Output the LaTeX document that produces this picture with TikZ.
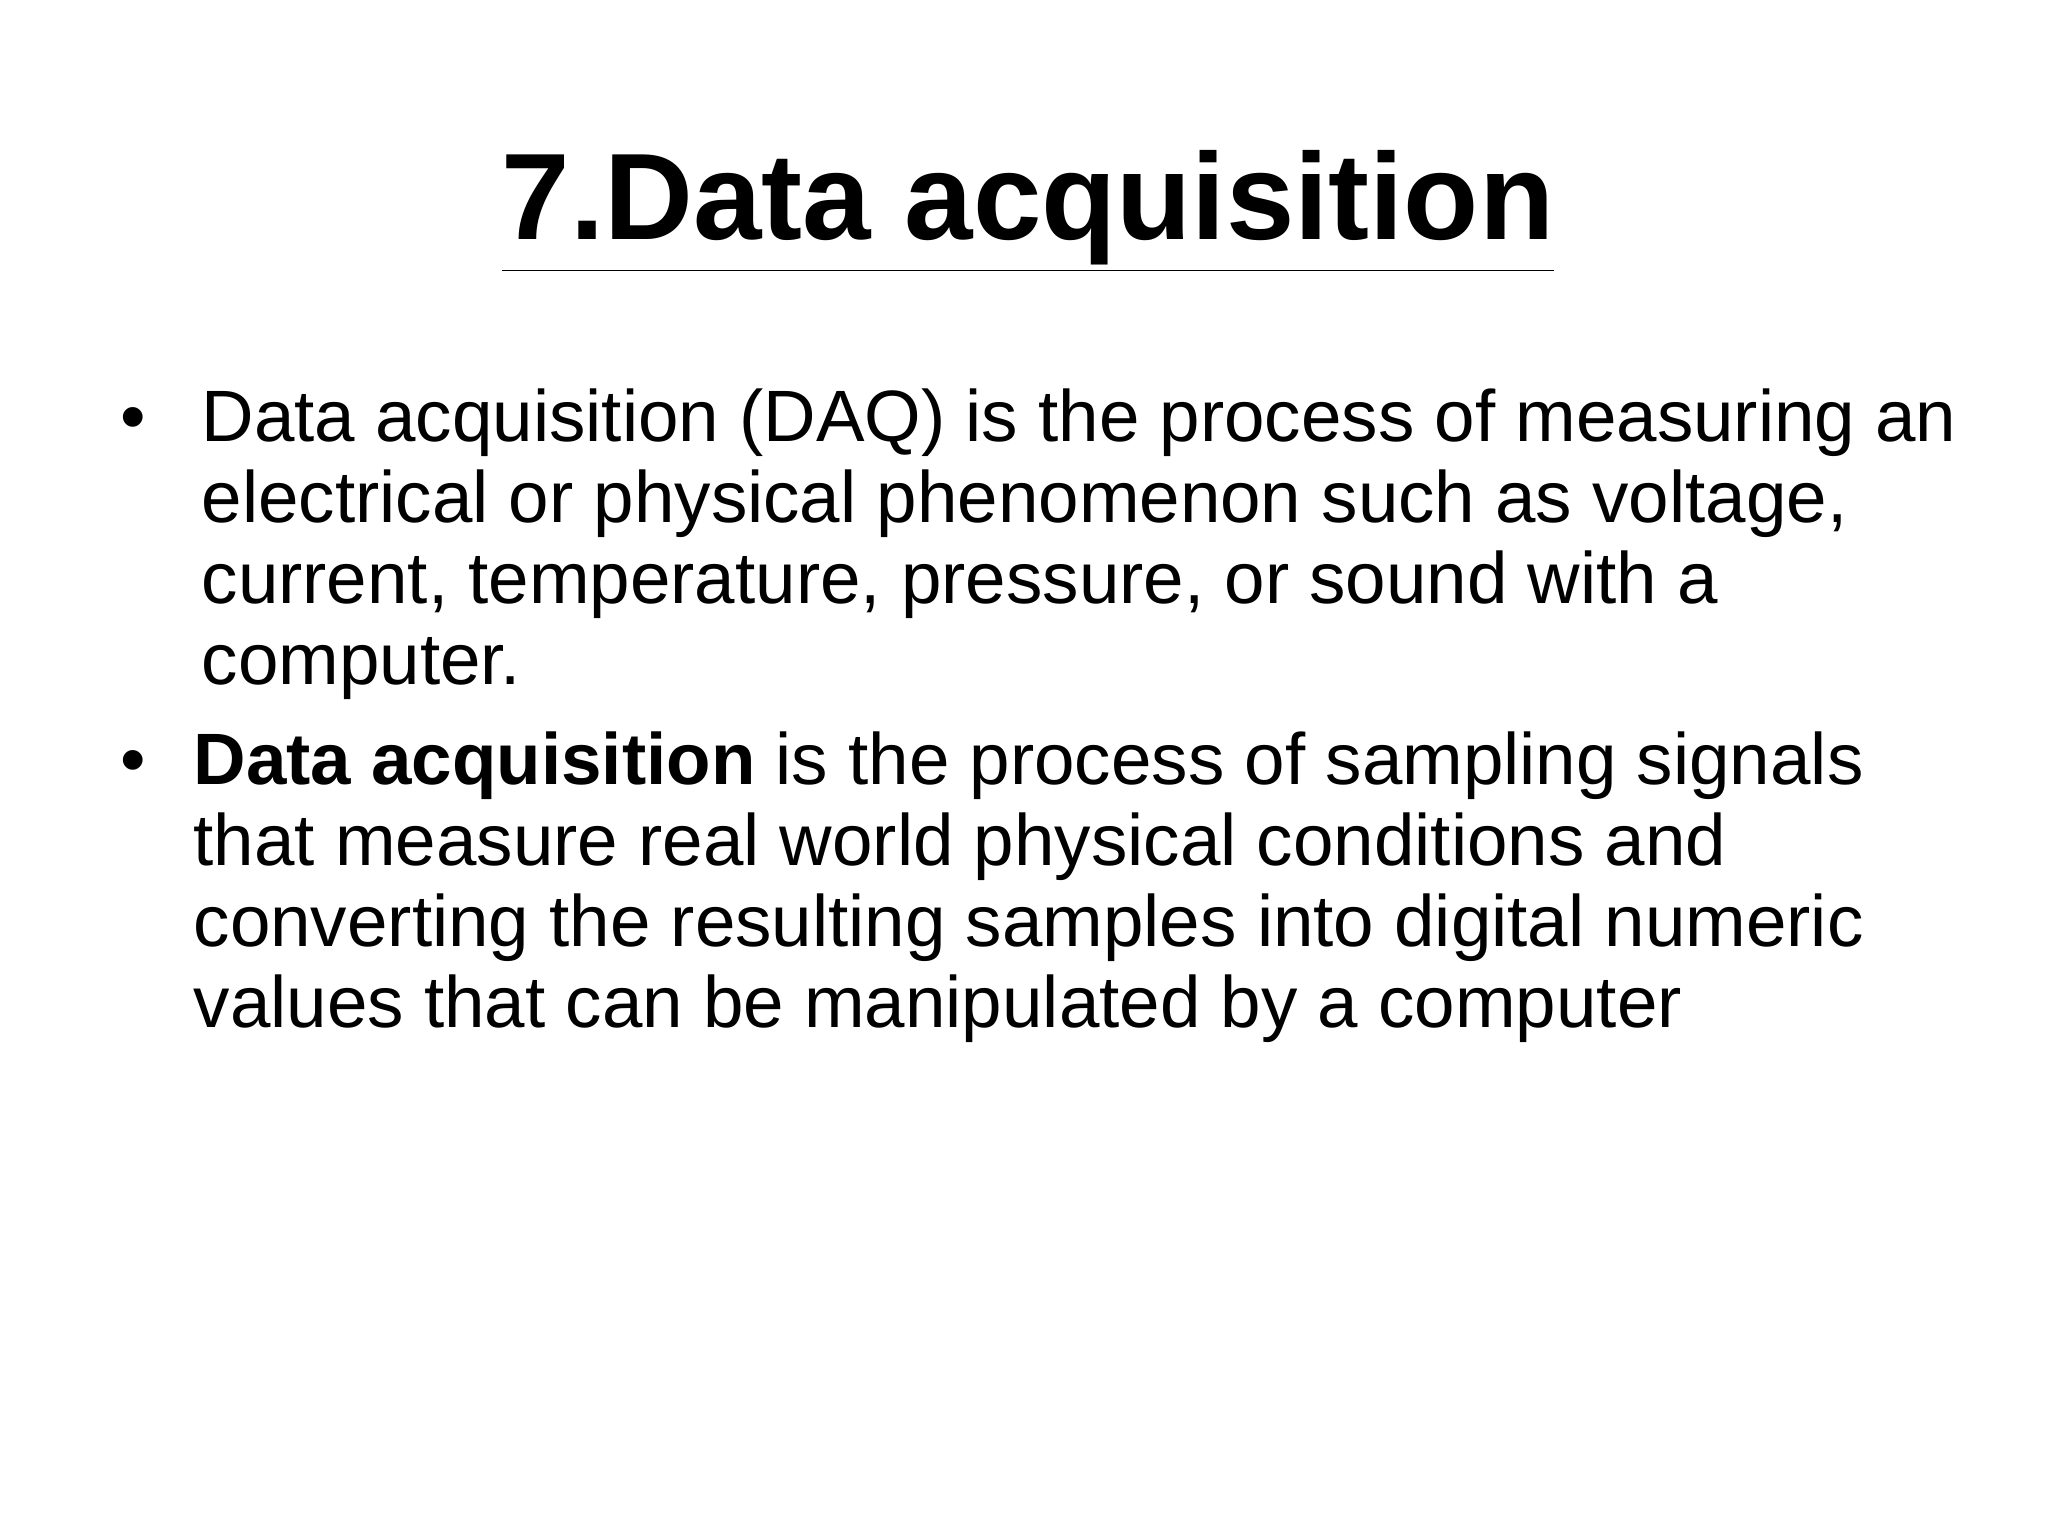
\documentclass[tikz,border=0pt]{standalone}
\usepackage{fontspec}
\setmainfont{Liberation Sans}
\begin{document}
\begin{tikzpicture}[x=1cm,y=1cm,
  ln/.style={anchor=base west,inner sep=0pt,font=\fontsize{20.7}{23}\selectfont},
  bul/.style={anchor=base,inner sep=0pt,font=\fontsize{20.7}{23}\selectfont}]
\useasboundingbox (0,0) rectangle (20.48,15.36);
\node[anchor=base,inner sep=0pt,font=\fontsize{35}{40}\selectfont\bfseries] (t) at (10.28,12.96) {\underline{7.Data acquisition}};
\node[bul] (b1) at (1.33,10.94) {•};
\node[ln] (l1) at (2.01,10.94) {Data acquisition (DAQ) is the process of measuring an};
\node[ln] (l2) at (2.01,10.13) {electrical or physical phenomenon such as voltage,};
\node[ln] (l3) at (2.01,9.32) {current, temperature, pressure, or sound with a};
\node[ln] (l4) at (2.01,8.51) {computer.};
\node[bul] (b2) at (1.33,7.51) {•};
\node[ln] (m1) at (1.93,7.51) {\textbf{Data acquisition} is the process of sampling signals};
\node[ln] (m2) at (1.93,6.70) {that measure real world physical conditions and};
\node[ln] (m3) at (1.93,5.89) {converting the resulting samples into digital numeric};
\node[ln] (m4) at (1.93,5.08) {values that can be manipulated by a computer};
\end{tikzpicture}
\end{document}
